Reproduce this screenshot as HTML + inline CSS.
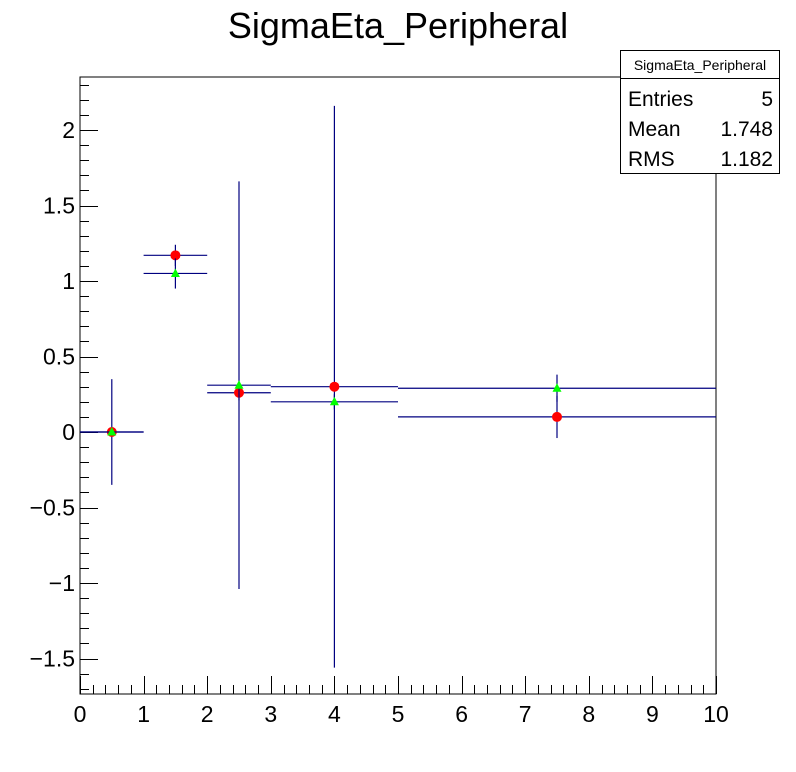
<!DOCTYPE html>
<html><head><meta charset="utf-8"><style>
body{margin:0;background:#fff;}
svg{display:block;font-family:"Liberation Sans",sans-serif;}
</style></head><body>
<svg id="c" width="796" height="772">
<rect width="796" height="772" fill="#fff"/>
<text x="398" y="38" font-size="36" text-anchor="middle">SigmaEta_Peripheral</text>
<rect x="80" y="77" width="636" height="617" fill="none" stroke="#000" stroke-width="1"/>
<g id="axes"></g>
<g id="marks"></g>
<g>
<rect x="620.5" y="50.5" width="159" height="123" fill="#fff" stroke="#000"/>
<line x1="620" y1="78.5" x2="780" y2="78.5" stroke="#000"/>
<text x="700" y="70" font-size="14" text-anchor="middle">SigmaEta_Peripheral</text>
<text x="628" y="106" font-size="21">Entries</text>
<text x="773" y="106" font-size="21" text-anchor="end">5</text>
<text x="628" y="136" font-size="21">Mean</text>
<text x="773" y="136" font-size="21" text-anchor="end">1.748</text>
<text x="628" y="166" font-size="21">RMS</text>
<text x="773" y="166" font-size="21" text-anchor="end">1.182</text>
</g>
</svg>
<script>
const binLow=[0,1,2,3,5];
const binHigh=[1,2,3,5,10];
const redValues=[0,1.17,0.26,0.30,0.10];
const redErrors=[0.35,0.07,0.05,1.86,0.14];
const greenValues=[0,1.05,0.31,0.20,0.29];
const greenErrors=[0,0.10,1.35,0.05,0.09];
const xTickLabels=["0","1","2","3","4","5","6","7","8","9","10"];
const yTickValues=[-1.5,-1,-0.5,0,0.5,1,1.5,2];
const yTickLabels=["\u22121.5","\u22121","\u22120.5","0","0.5","1","1.5","2"];

const X0=80,X1=716,Y0=694,Y1=77,xmin=0,xmax=10,ymin=-1.735,ymax=2.351;
const sx=v=>X0+(v-xmin)/(xmax-xmin)*(X1-X0);
const sy=v=>Y0-(v-ymin)/(ymax-ymin)*(Y0-Y1);
const NS="http://www.w3.org/2000/svg";
function mk(tag,attrs,parent){const e=document.createElementNS(NS,tag);for(const k in attrs)e.setAttribute(k,attrs[k]);parent.appendChild(e);return e;}
const axes=document.getElementById('axes'),marks=document.getElementById('marks');

for(let i=0;i<=50;i++){const v=i*0.2;const x=Math.round(sx(v))+0.5;const major=i%5===0;
 const t=mk('line',{x1:x,x2:x,y1:Y0,y2:Y0-(major?18:9),stroke:'#000'},axes);
 
 }
xTickLabels.forEach((l,i)=>{const t=mk('text',{x:sx(i),y:722,'font-size':23,'text-anchor':'middle'},axes);t.textContent=l;
 
 });
for(let i=-17;i<=23;i++){const v=i*0.1;const y=Math.round(sy(v))+0.5;const major=i%5===0;
 const t=mk('line',{x1:X0,x2:X0+(major?18:9),y1:y,y2:y,stroke:'#000'},axes);
 
 }
yTickValues.forEach((v,i)=>{const t=mk('text',{x:75,y:sy(v)+8,'font-size':23,'text-anchor':'end'},axes);t.textContent=yTickLabels[i];
 
 });

const lc='#000080';
function series(vals,errs,name,marker){
 vals.forEach((v,i)=>{const cx=sx((binLow[i]+binHigh[i])/2),y=sy(v);
  const h=mk('line',{x1:sx(binLow[i]),x2:sx(binHigh[i]),y1:y,y2:y,stroke:lc,'stroke-width':1.2},marks);
  
  
  if(errs[i]>0){const e=mk('line',{x1:cx,x2:cx,y1:sy(v+errs[i]),y2:sy(v-errs[i]),stroke:lc,'stroke-width':1.2},marks);
   
   }
 });
 vals.forEach((v,i)=>{const cx=sx((binLow[i]+binHigh[i])/2),y=sy(v);let m;
  if(marker==='circle')m=mk('circle',{cx:cx,cy:y,r:5,fill:'#ff0000'},marks);
  else m=mk('polygon',{points:`${cx},${y-5} ${cx-4.5},${y+3.5} ${cx+4.5},${y+3.5}`,fill:'#00ff00'},marks);
  
  });
}
series(redValues,redErrors,'red-series','circle');
series(greenValues,greenErrors,'green-series','triangle');
</script>
</body></html>
